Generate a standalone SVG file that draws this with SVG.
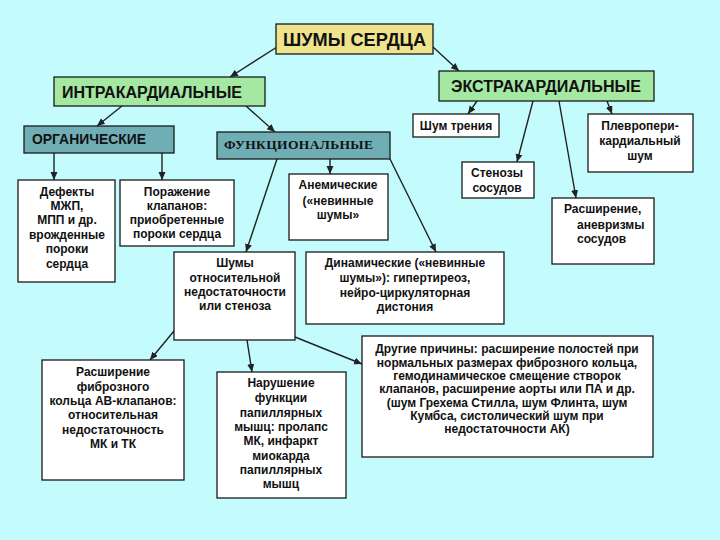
<svg xmlns="http://www.w3.org/2000/svg" width="720" height="540" viewBox="0 0 720 540">
<style>
.b{stroke:#1a1a1a;stroke-width:1.3}
.w{fill:#ffffff}
.y{fill:#efe38e}
.g{fill:#a4e8a2}
.c{fill:#70aeb6}
text{font-family:"Liberation Sans",Arial,sans-serif;font-weight:bold;fill:#111;text-anchor:middle}
.s{font-size:12px}
.h{font-size:16px}
.ser{font-family:"Liberation Serif","Times New Roman",serif;font-size:13.5px}
.l{text-anchor:start}
.con path{stroke:#222;stroke-width:1.4;fill:none;marker-end:url(#ah)}
</style>
<defs>
<marker id="ah" markerUnits="userSpaceOnUse" markerWidth="9" markerHeight="8" refX="8" refY="3.5" orient="auto">
<path d="M0,0 L8,3.5 L0,7 z" fill="#222"/>
</marker>
</defs>
<rect width="720" height="540" fill="#c4fbfd"/>

<g class="con">
<path d="M277,47 L230,77"/>
<path d="M433,47 L459,71"/>
<path d="M122,106 L97,126"/>
<path d="M246,106 L275,132"/>
<path d="M477,101 L468,114"/>
<path d="M533,101 L517,162"/>
<path d="M559,101 L576,198"/>
<path d="M607,101 L612,114"/>
<path d="M54,153 L54,180"/>
<path d="M162,153 L162,180"/>
<path d="M277,159 L246,252"/>
<path d="M330,159 L330,174"/>
<path d="M390,159 L436,252"/>
<path d="M174,331 L150,360"/>
<path d="M247,340 L252,372"/>
<path d="M295,337 L362,364"/>
</g>

<g id="n-shumy"><rect class="b y" x="276" y="24" width="157" height="30"/><text x="354.5" y="45.5" style="font-size:18px" textLength="143" lengthAdjust="spacingAndGlyphs">ШУМЫ СЕРДЦА</text></g>
<g id="n-intra"><rect class="b g" x="54" y="77" width="211" height="29"/><text x="152" y="97.5" class="h" textLength="180" lengthAdjust="spacingAndGlyphs">ИНТРАКАРДИАЛЬНЫЕ</text></g>
<g id="n-extra"><rect class="b g" x="439" y="71" width="215" height="30"/><text x="546" y="91.5" class="h" textLength="190" lengthAdjust="spacingAndGlyphs">ЭКСТРАКАРДИАЛЬНЫЕ</text></g>
<g id="n-org"><rect class="b c" x="24" y="126" width="150" height="27"/><text x="89" y="143.5" style="font-size:14px" textLength="114" lengthAdjust="spacingAndGlyphs">ОРГАНИЧЕСКИЕ</text></g>
<g id="n-func"><rect class="b c" x="217" y="132" width="173" height="27"/><text x="298.5" y="149" class="ser" textLength="149">ФУНКЦИОНАЛЬНЫЕ</text></g>
<g id="n-trenie"><rect class="b w" x="413" y="114" width="86" height="23"/><text x="456" y="130" class="s">Шум трения</text></g>
<g id="n-plevro"><rect class="b w" x="588" y="114" width="105" height="58"/><text class="s" x="640" y="130">Плевропери-</text><text class="s" x="640" y="145">кардиальный</text><text class="s" x="640" y="160">шум</text></g>
<g id="n-stenoz"><rect class="b w" x="462" y="162" width="72" height="36"/><text class="s" x="497" y="177">Стенозы</text><text class="s" x="497" y="192">сосудов</text></g>
<g id="n-rassh"><rect class="b w" x="552" y="198" width="102" height="66"/><text class="s l" x="564" y="213">Расширение,</text><text class="s l" x="577" y="229">аневризмы</text><text class="s l" x="577" y="243">сосудов</text></g>
<g id="n-defekty"><rect class="b w" x="18" y="180" width="97" height="102"/><text class="s" x="67" y="196">Дефекты</text><text class="s" x="67" y="210">МЖП,</text><text class="s" x="67" y="224">МПП и др.</text><text class="s" x="67" y="239">врожденные</text><text class="s" x="67" y="253">пороки</text><text class="s" x="67" y="268">сердца</text></g>
<g id="n-porazh"><rect class="b w" x="120" y="180" width="114" height="66"/><text class="s" x="177" y="196">Поражение</text><text class="s" x="177" y="210">клапанов:</text><text class="s" x="177" y="224">приобретенные</text><text class="s" x="177" y="238">пороки сердца</text></g>
<g id="n-anem"><rect class="b w" x="289" y="174" width="99" height="66"/><text class="s" x="338" y="189">Анемические</text><text class="s" x="338" y="205">(«невинные</text><text class="s" x="338" y="219">шумы»</text></g>
<g id="n-otnos"><rect class="b w" x="174" y="252" width="121" height="88"/><text class="s" x="235" y="267">Шумы</text><text class="s" x="235" y="282">относительной</text><text class="s" x="235" y="296">недостаточности</text><text class="s" x="235" y="310">или стеноза</text></g>
<g id="n-dinam"><rect class="b w" x="306" y="252" width="198" height="72"/><text class="s" x="405" y="267">Динамические («невинные</text><text class="s" x="405" y="282">шумы»): гипертиреоз,</text><text class="s" x="405" y="297">нейро-циркуляторная</text><text class="s" x="405" y="311">дистония</text></g>
<g id="n-fibr"><rect class="b w" x="42" y="360" width="142" height="120"/><text class="s" x="113" y="376">Расширение</text><text class="s" x="113" y="391">фиброзного</text><text class="s" x="113" y="405">кольца АВ-клапанов:</text><text class="s" x="113" y="419">относительная</text><text class="s" x="113" y="434">недостаточность</text><text class="s" x="113" y="448">МК и ТК</text></g>
<g id="n-narush"><rect class="b w" x="217" y="372" width="129" height="126"/><text class="s" x="281" y="387">Нарушение</text><text class="s" x="281" y="402">функции</text><text class="s" x="281" y="417">папиллярных</text><text class="s" x="281" y="431">мышц: пролапс</text><text class="s" x="281" y="445">МК, инфаркт</text><text class="s" x="281" y="460">миокарда</text><text class="s" x="281" y="474">папиллярных</text><text class="s" x="281" y="488">мышц</text></g>
<g id="n-drugie"><rect class="b w" x="362" y="336" width="291" height="121"/><text class="s" x="507" y="353">Другие причины: расширение полостей при</text><text class="s" x="507" y="367">нормальных размерах фиброзного кольца,</text><text class="s" x="507" y="380">гемодинамическое смещение створок</text><text class="s" x="507" y="393">клапанов, расширение аорты или ПА и др.</text><text class="s" x="507" y="407">(шум Грехема Стилла, шум Флинта, шум</text><text class="s" x="507" y="420">Кумбса, систолический шум при</text><text class="s" x="507" y="433">недостаточности АК)</text></g>
</svg>
